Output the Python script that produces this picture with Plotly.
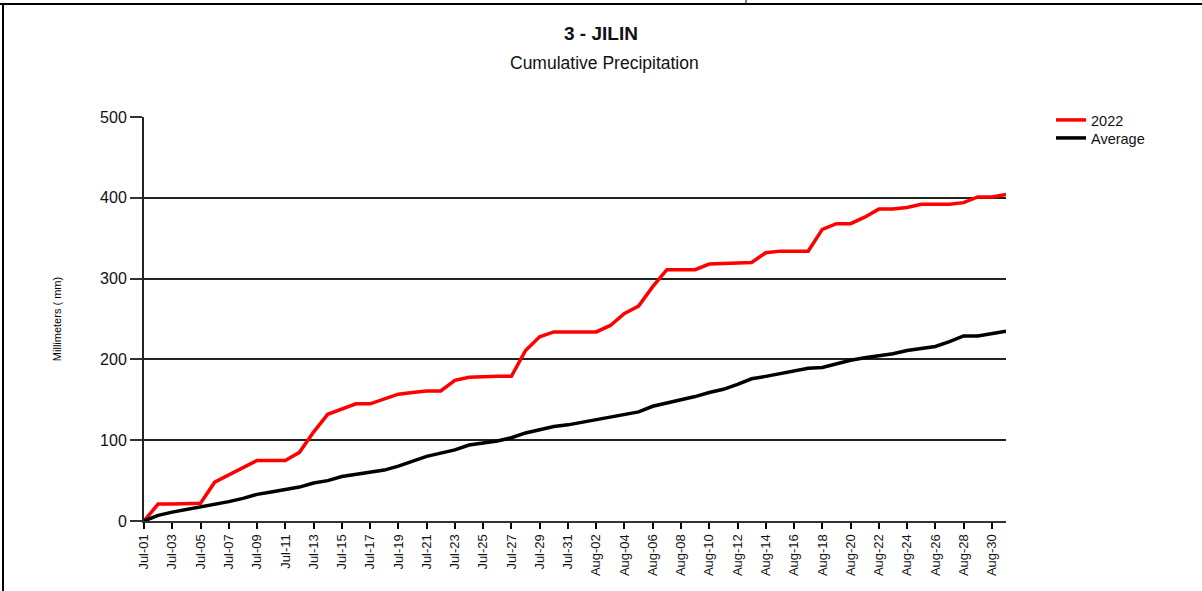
import plotly.graph_objects as go

dates = [f"Jul-{d:02d}" for d in range(1, 32)] + [f"Aug-{d:02d}" for d in range(1, 32)]
tick_labels = dates[::2]

precip_2022 = [0, 21, 21, 21, 22, 48, 57, 66, 75, 75, 75, 85, 110, 132, 139, 145, 145, 151, 157, 159,
               161, 161, 174, 178, 179, 179, 179, 211, 228, 234, 234, 234, 234, 242, 257, 266, 290, 311,
               311, 311, 318, 319, 320, 320, 332, 334, 334, 334, 361, 368, 368, 376, 386, 386, 388, 392,
               392, 392, 394, 401, 401, 404]
precip_avg = [0, 7, 11, 14, 18, 21, 24, 28, 33, 36, 39, 42, 47, 50, 55, 58, 60, 63, 68, 74,
              80, 84, 88, 94, 96, 99, 103, 109, 113, 117, 119, 122, 126, 129, 132, 135, 142, 146,
              149, 154, 159, 163, 169, 176, 179, 182, 186, 189, 190, 195, 199, 202, 204, 207, 211, 213,
              216, 222, 229, 229, 232, 235]
y_ticks = [0, 100, 200, 300, 400, 500]

FONT = "Liberation Sans, Arial, sans-serif"
L, R, T, B = 144, 196, 117, 70
W, H = 1202, 591
PW, PH = W - L - R, H - T - B

def px(x):
    return (x - L) / PW

def py(y):
    return (H - B - y) / PH

fig = go.Figure()
fig.add_trace(go.Scatter(x=dates, y=precip_2022, mode="lines", name="2022",
                         line=dict(color="#ff0000", width=3.5), legend="legend"))
fig.add_trace(go.Scatter(x=dates, y=precip_avg, mode="lines", name="Average",
                         line=dict(color="#000000", width=3.5), legend="legend2"))

leg_common = dict(xanchor="left", yanchor="middle", font=dict(size=14.5, color="#111"),
                  bgcolor="rgba(0,0,0,0)", borderwidth=0)

fig.update_layout(
    width=W, height=H,
    margin=dict(l=L, r=R, t=T, b=B),
    paper_bgcolor="white", plot_bgcolor="white",
    font=dict(family=FONT, color="#111"),
    showlegend=True,
    legend=dict(x=px(1051), y=py(120), **leg_common),
    legend2=dict(x=px(1051), y=py(138), **leg_common),
    xaxis=dict(type="category", range=[0, len(dates) - 1],
               tickmode="array", tickvals=tick_labels, ticktext=tick_labels,
               tickangle=-90, tickfont=dict(size=13, color="#111"),
               ticks="outside", ticklen=6, tickcolor="#000", tickwidth=1.5,
               showline=True, linecolor="#333", linewidth=2,
               showgrid=False, zeroline=False),
    yaxis=dict(range=[0, 500], tickvals=y_ticks,
               tickfont=dict(size=16, color="#111"),
               ticks="outside", ticklen=12, tickcolor="#333", tickwidth=1.5,
               showline=True, linecolor="#222", linewidth=2,
               showgrid=True, gridcolor="#222", gridwidth=1.5, zeroline=False,
               title=dict(text="Millimeters ( mm)", font=dict(size=11, color="#000"), standoff=36)),
    annotations=[
        dict(text="<b>3 - JILIN</b>", xref="paper", yref="paper", x=px(601), y=py(33),
             xanchor="center", yanchor="middle", showarrow=False, font=dict(size=19, color="#111")),
        dict(text="Cumulative Precipitation", xref="paper", yref="paper", x=px(604), y=py(63),
             xanchor="center", yanchor="middle", showarrow=False, font=dict(size=17.5, color="#111")),
    ],
    shapes=[
        dict(type="line", xref="paper", yref="paper", x0=px(0), x1=px(W), y0=py(4), y1=py(4),
             line=dict(color="#000", width=2)),
        dict(type="line", xref="paper", yref="paper", x0=px(3), x1=px(3), y0=py(4), y1=py(H),
             line=dict(color="#000", width=2)),
        dict(type="line", xref="paper", yref="paper", x0=px(746), x1=px(746), y0=py(0), y1=py(4),
             line=dict(color="#000", width=1)),
    ],
)

fig.write_html("out.html", config={"displayModeBar": False},
               post_script="document.body.style.margin='0';document.body.style.padding='0';")
